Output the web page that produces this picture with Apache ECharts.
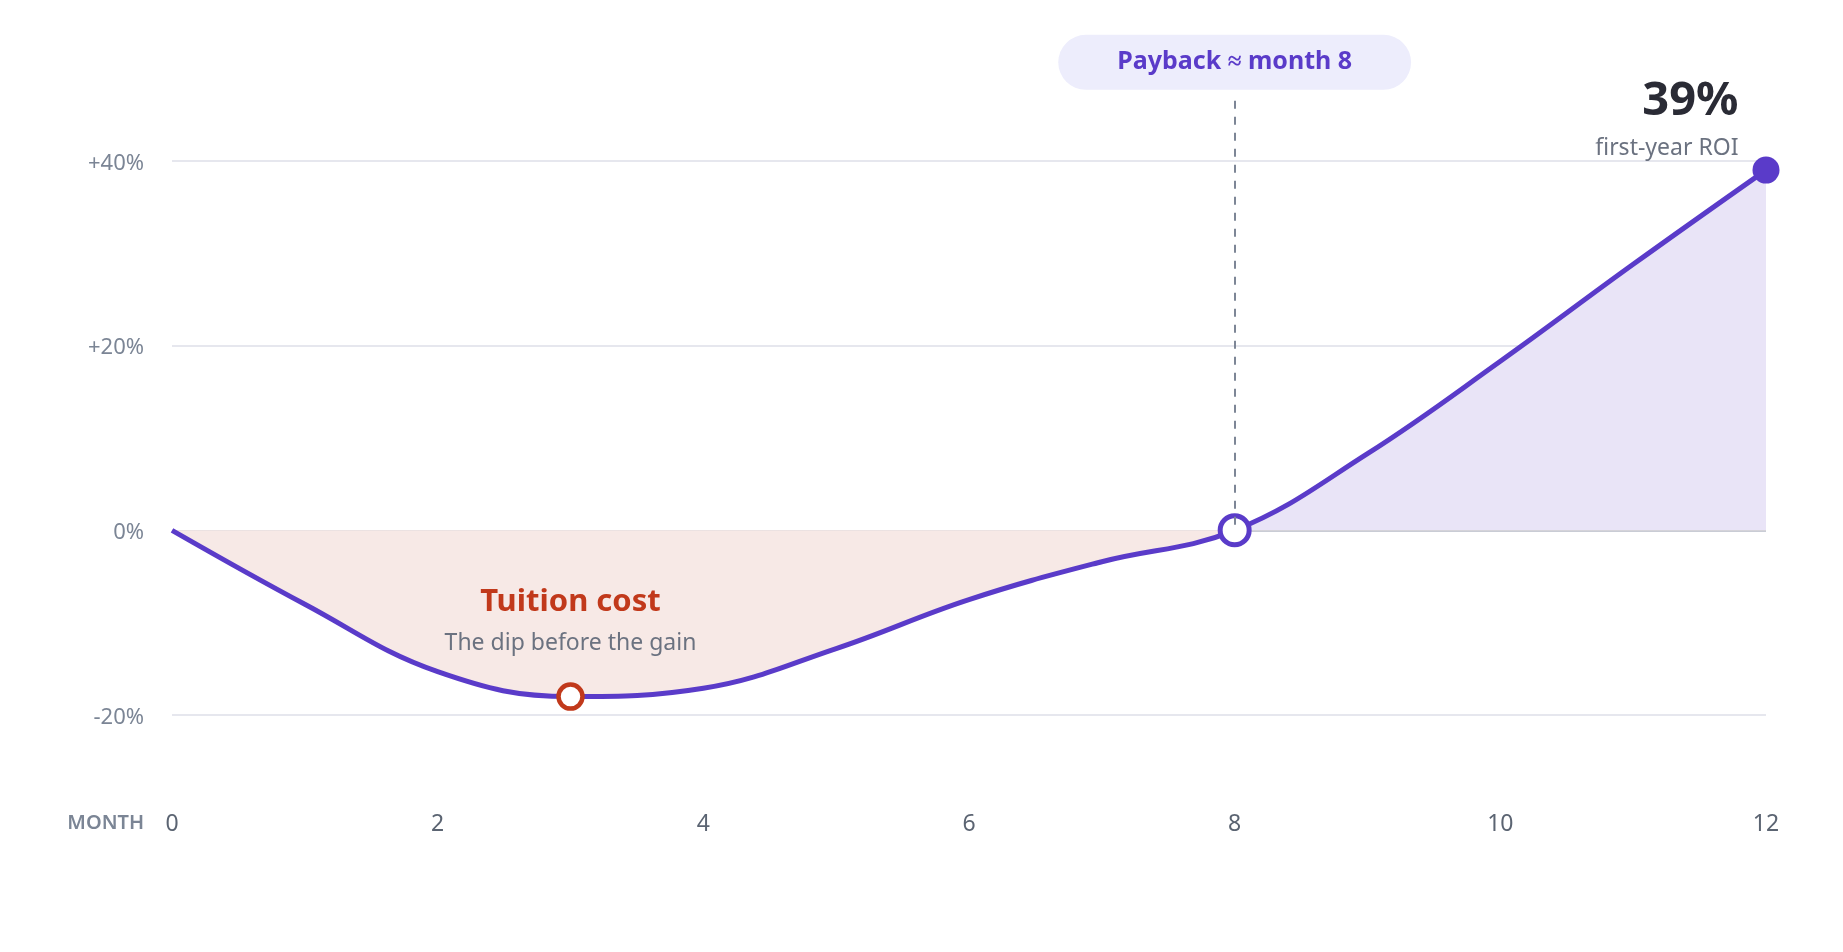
<!DOCTYPE html>
<html lang="en">

<head>
  <meta charset="UTF-8">
  <meta name="viewport" content="width=device-width, initial-scale=1.0">
  <title>First-year ROI</title>
  <style>
    * {
      margin: 0;
      padding: 0;
    }

    #main {
      width: 100vw;
      height: 100vh;
      background: #fff;
    }
  </style>
</head>

<body>
  <div id="main"></div>
  <script src="https://cdn.jsdelivr.net/npm/echarts@6/dist/echarts.min.js"></script>
  <script>
    // 数据
    const months = [0, 1, 2, 3, 4, 5, 6, 7, 8, 9, 10, 11, 12]
    const roi = [0, -8, -15.3, -18, -17.1, -12.8, -7.5, -3.4, 0, 8.3, 18.3, 28.8, 39]
    const xTicks = [0, 2, 4, 6, 8, 10, 12]
    const yTicks = [-20, 0, 20, 40]
    const dipMonth = 3
    const paybackMonth = 8

    const purple = '#5a3bc9'
    const rust = '#c1391b'
    const lossFill = '#f7e9e6'
    const gainFill = '#e9e4f7'
    const smoothness = 0.4

    let chart = echarts.init(document.getElementById('main'))

    // 曲线上的点，只有三个点显示圆点
    let lineData = months.map((m, i) => {
      let item = { value: [m, roi[i]] }
      if (m === dipMonth) {
        item.symbol = 'circle'
        item.symbolSize = 24
        item.itemStyle = { color: '#fff', borderColor: rust, borderWidth: 4.5 }
        item.label = {
          show: true,
          position: 'top',
          distance: 24,
          formatter: '{t|Tuition cost}\n{s|The dip before the gain}',
          rich: {
            t: { fontSize: 31, fontWeight: 'bold', color: rust, lineHeight: 52, align: 'center' },
            s: { fontSize: 23, color: '#6b7280', lineHeight: 30, align: 'center' }
          }
        }
      } else if (m === paybackMonth) {
        item.symbol = 'circle'
        item.symbolSize = 29
        item.itemStyle = { color: '#fff', borderColor: purple, borderWidth: 5 }
      } else if (i === months.length - 1) {
        item.symbol = 'circle'
        item.symbolSize = 27
        item.itemStyle = { color: purple, borderWidth: 0 }
        item.label = {
          show: true,
          position: [-14, 4],
          align: 'right',
          verticalAlign: 'bottom',
          formatter: p => '{b|' + Math.round(p.value[1]) + '%}\n{s|first-year ROI}',
          rich: {
            b: { fontSize: 47, fontWeight: 'bold', color: '#2a2b35', lineHeight: 70, align: 'right' },
            s: { fontSize: 23, color: '#6b7280', lineHeight: 24, align: 'right' }
          }
        }
      }
      return item
    })

    // 网格线：只显示 -20 0 20 40，0 线深一点
    let splitColors = [-30, -20, -10, 0, 10, 20, 30, 40, 50].map(v => {
      if (v === 0) return '#c9ccd5'
      return yTicks.indexOf(v) > -1 ? '#e6e7ee' : 'rgba(0,0,0,0)'
    })

    let option = {
      animation: false,
      textStyle: { fontFamily: 'Noto Sans' },
      grid: { left: 172, right: 77, top: 68.5, bottom: 144.6 },
      xAxis: {
        type: 'value',
        min: 0,
        max: 12,
        interval: 2,
        name: 'MONTH',
        nameLocation: 'start',
        nameGap: 28,
        nameTextStyle: { color: '#7b8595', fontSize: 20, fontWeight: 600, verticalAlign: 'top', padding: [6, 0, 0, 0] },
        axisLine: { show: false, onZero: false },
        axisTick: { show: false },
        splitLine: { show: false },
        axisLabel: {
          margin: 6,
          fontSize: 23,
          color: '#5b6472',
          formatter: v => (xTicks.indexOf(v) > -1 ? v : '')
        }
      },
      yAxis: {
        type: 'value',
        min: -30,
        max: 50,
        interval: 10,
        axisLine: { show: false },
        axisTick: { show: false },
        axisLabel: {
          margin: 28,
          formatter: v => {
            if (yTicks.indexOf(v) < 0) return ''
            return '{p|' + (v > 0 ? '+' : '') + v + '%}'
          },
          rich: {
            p: { fontSize: 22, color: '#7b8595', padding: [5, 0, 0, 0] }
          }
        },
        splitLine: { lineStyle: { color: splitColors, width: 2 } }
      },
      series: [
        {
          name: 'area',
          type: 'line',
          smooth: smoothness,
          data: months.map((m, i) => [m, roi[i]]),
          symbol: 'none',
          lineStyle: { width: 0 },
          areaStyle: { color: gainFill, opacity: 1 },
          silent: true,
          z: 1
        },
        {
          name: 'ROI',
          type: 'line',
          smooth: smoothness,
          clip: false,
          data: lineData,
          symbol: 'none',
          lineStyle: { color: purple, width: 5 },
          itemStyle: { color: purple },
          z: 3,
          markLine: {
            silent: true,
            symbol: ['none', 'none'],
            lineStyle: { type: [8, 8], color: '#7d8696', width: 2 },
            label: {
              show: true,
              position: 'start',
              distance: 11,
              formatter: 'Payback ≈ month ' + paybackMonth,
              backgroundColor: '#ededfc',
              borderRadius: 28,
              padding: [15, 59],
              color: purple,
              fontSize: 25,
              fontWeight: 'bold'
            },
            // 从上往下画，虚线从顶端开始
            data: [[{ coord: [paybackMonth, 46.5] }, { coord: [paybackMonth, 0] }]]
          }
        }
      ]
    }

    chart.setOption(option)

    // 面积颜色：0 以下偏红，0 以上偏紫 (按 0 线的像素位置分色)
    let zeroY = chart.convertToPixel({ yAxisIndex: 0 }, 0)
    let h = chart.getHeight()
    let f = zeroY / h
    chart.setOption({
      series: [{
        name: 'area',
        areaStyle: {
          color: {
            type: 'linear', x: 0, y: 0, x2: 0, y2: h, global: true,
            colorStops: [
              { offset: 0, color: gainFill },
              { offset: f, color: gainFill },
              { offset: f, color: lossFill },
              { offset: 1, color: lossFill }
            ]
          }
        }
      }]
    })

    window.addEventListener('resize', () => chart.resize())
  </script>
</body>

</html>
